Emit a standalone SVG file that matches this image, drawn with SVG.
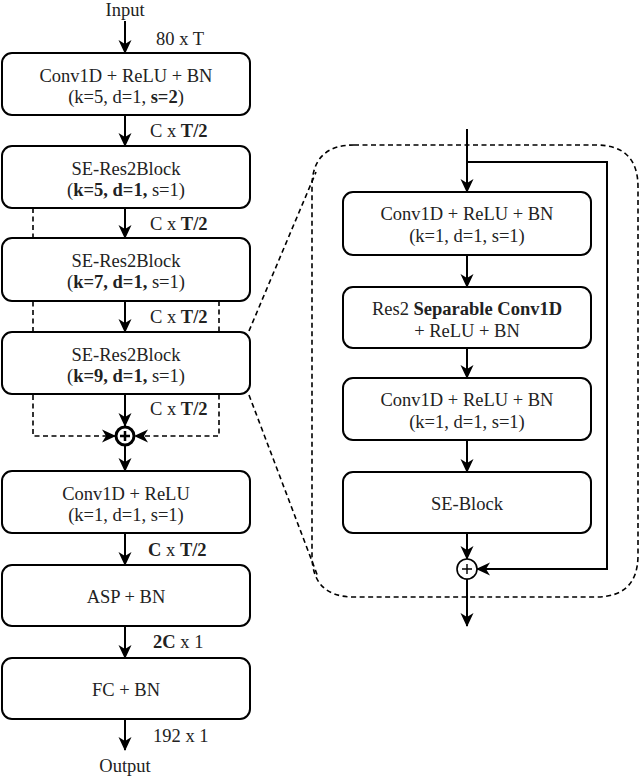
<svg xmlns="http://www.w3.org/2000/svg" width="640" height="778" viewBox="0 0 640 778">
<style>
text{font-family:"Liberation Serif","Times New Roman",serif;font-size:18.5px;fill:#222;}
.c{text-anchor:middle;}
.b{font-weight:bold;}
.box{fill:#fff;stroke:#000;stroke-width:2;}
.ln{fill:none;stroke:#000;stroke-width:2;}
.dash{fill:none;stroke:#000;stroke-width:1.6;stroke-dasharray:5 3.5;}
</style>
<defs>
<marker id="ah" markerUnits="userSpaceOnUse" viewBox="0 0 14 14" markerWidth="14" markerHeight="14" refX="13" refY="7" orient="auto">
<path d="M0,0.5 L14,7 L0,13.5 L4,7 z" fill="#000"/>
</marker>
</defs>
<g id="connectors">
<line class="ln" x1="125" y1="21" x2="125" y2="53" marker-end="url(#ah)"/>
<line class="ln" x1="125" y1="115" x2="125" y2="146" marker-end="url(#ah)"/>
<line class="ln" x1="125" y1="208" x2="125" y2="238" marker-end="url(#ah)"/>
<line class="ln" x1="125" y1="301" x2="125" y2="332" marker-end="url(#ah)"/>
<line class="ln" x1="125" y1="394" x2="125" y2="426" marker-end="url(#ah)"/>
<line class="ln" x1="125" y1="446" x2="125" y2="471" marker-end="url(#ah)"/>
<line class="ln" x1="125" y1="533" x2="125" y2="565" marker-end="url(#ah)"/>
<line class="ln" x1="125" y1="626" x2="125" y2="658" marker-end="url(#ah)"/>
<line class="ln" x1="125" y1="719" x2="125" y2="750" marker-end="url(#ah)"/>
<path class="dash" d="M33,208 V436 H115" marker-end="url(#ah)"/>
<path class="dash" d="M219,301 V436 H135" marker-end="url(#ah)"/>
<path class="dash" d="M354,145 H596 Q638,145 638,187 V555 Q638,597 596,597 H354 Q312,597 312,555 V187 Q312,145 354,145 Z"/>
<line class="dash" x1="249" y1="331" x2="316" y2="172"/>
<line class="dash" x1="249" y1="395" x2="318" y2="577"/>
<line class="ln" x1="467" y1="129" x2="467" y2="192" marker-end="url(#ah)"/>
<line class="ln" x1="467" y1="255" x2="467" y2="287" marker-end="url(#ah)"/>
<line class="ln" x1="467" y1="348" x2="467" y2="378" marker-end="url(#ah)"/>
<line class="ln" x1="467" y1="440" x2="467" y2="472" marker-end="url(#ah)"/>
<line class="ln" x1="467" y1="533" x2="467" y2="559" marker-end="url(#ah)"/>
<line class="ln" x1="467" y1="579" x2="467" y2="626" marker-end="url(#ah)"/>
<path class="ln" d="M467,162 H607 V569 H477" marker-end="url(#ah)"/>
</g>
<g id="labels">
<text x="125" y="16" class="c">Input</text>
<text x="156" y="45">80 x T</text>
<text x="150" y="137">C x <tspan class="b">T/2</tspan></text>
<text x="150" y="230">C x <tspan class="b">T/2</tspan></text>
<text x="150" y="323">C x <tspan class="b">T/2</tspan></text>
<text x="150" y="415">C x <tspan class="b">T/2</tspan></text>
<text x="148" y="556"><tspan class="b">C</tspan> x <tspan class="b">T/2</tspan></text>
<text x="153" y="648"><tspan class="b">2C</tspan> x 1</text>
<text x="153" y="742">192 x 1</text>
<text x="125" y="772" class="c">Output</text>
</g>
<g id="conv1">
<rect class="box" x="2" y="53" width="248" height="62" rx="10"/>
<text x="126" y="82" class="c">Conv1D + ReLU + BN</text>
<text x="126" y="103" class="c">(k=5, d=1, <tspan class="b">s=2</tspan>)</text>
</g>
<g id="se1">
<rect class="box" x="2" y="146" width="248" height="62" rx="10"/>
<text x="126" y="175" class="c">SE-Res2Block</text>
<text x="126" y="196" class="c">(<tspan class="b">k=5, d=1,</tspan> s=1)</text>
</g>
<g id="se2">
<rect class="box" x="2" y="238" width="248" height="63" rx="10"/>
<text x="126" y="267" class="c">SE-Res2Block</text>
<text x="126" y="288" class="c">(<tspan class="b">k=7, d=1,</tspan> s=1)</text>
</g>
<g id="se3">
<rect class="box" x="2" y="332" width="248" height="62" rx="10"/>
<text x="126" y="361" class="c">SE-Res2Block</text>
<text x="126" y="382" class="c">(<tspan class="b">k=9, d=1,</tspan> s=1)</text>
</g>
<g id="sum1">
<circle cx="125" cy="436" r="9" fill="#fff" stroke="#000" stroke-width="3"/>
<path d="M120,436 H130 M125,431 V441" stroke="#000" stroke-width="2.5"/>
</g>
<g id="conv2">
<rect class="box" x="2" y="471" width="248" height="62" rx="10"/>
<text x="126" y="500" class="c">Conv1D + ReLU</text>
<text x="126" y="521" class="c">(k=1, d=1, s=1)</text>
</g>
<g id="asp">
<rect class="box" x="2" y="565" width="248" height="61" rx="10"/>
<text x="126" y="603" class="c">ASP + BN</text>
</g>
<g id="fc">
<rect class="box" x="2" y="658" width="248" height="61" rx="10"/>
<text x="126" y="696" class="c">FC + BN</text>
</g>
<g id="inA">
<rect class="box" x="343" y="192" width="248" height="63" rx="10"/>
<text x="467" y="220" class="c">Conv1D + ReLU + BN</text>
<text x="467" y="242" class="c">(k=1, d=1, s=1)</text>
</g>
<g id="inB">
<rect class="box" x="343" y="287" width="248" height="61" rx="10"/>
<text x="467" y="315" class="c">Res2 <tspan class="b">Separable Conv1D</tspan></text>
<text x="467" y="337" class="c">+ ReLU + BN</text>
</g>
<g id="inC">
<rect class="box" x="343" y="378" width="248" height="62" rx="10"/>
<text x="467" y="406" class="c">Conv1D + ReLU + BN</text>
<text x="467" y="428" class="c">(k=1, d=1, s=1)</text>
</g>
<g id="inD">
<rect class="box" x="343" y="472" width="248" height="61" rx="10"/>
<text x="467" y="510" class="c">SE-Block</text>
</g>
<g id="sum2">
<circle cx="467" cy="569" r="10" fill="#fff" stroke="#000" stroke-width="1.6"/>
<path d="M462,569 H472 M467,564 V574" stroke="#000" stroke-width="1.4"/>
</g>
</svg>
